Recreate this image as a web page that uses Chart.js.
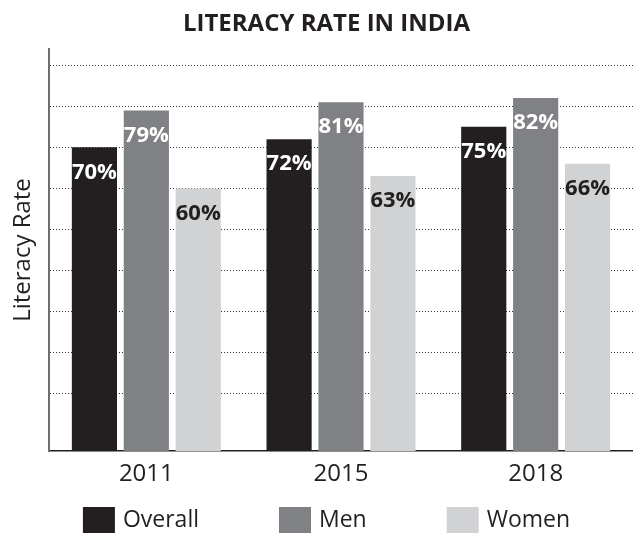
<!DOCTYPE html>
<html>
<head>
<meta charset="utf-8">
<script src="https://cdn.jsdelivr.net/npm/chart.js@4/dist/chart.umd.min.js"></script>
<style>
  html, body { margin: 0; padding: 0; background: #ffffff; }
  #wrap { width: 633px; height: 533px; }
</style>
</head>
<body>
<div id="wrap"><canvas id="c" width="633" height="533"></canvas></div>
<script>
const categories = ['2011', '2015', '2018'];
const overall = [70, 72, 75];
const men = [79, 81, 82];
const women = [60, 63, 66];
const seriesNames = ['Overall', 'Men', 'Women'];
const gridTicks = [10, 20, 30, 40, 50, 60, 70, 80, 90];
const chartTitle = 'LITERACY RATE IN INDIA';
const yTitle = 'Literacy Rate';

const Y_MIN = -4, Y_MAX = 94;
const FONT = "'Open Sans', 'DejaVu Sans', sans-serif";
const DARK = '#231f20';
const colors = ['#231f20', '#808184', '#d1d2d4'];
const labelColors = ['#ffffff', '#ffffff', '#231f20'];

const barLabels = {
  id: 'barLabels',
  afterDatasetsDraw(chart) {
    const ctx = chart.ctx;
    ctx.save();
    ctx.font = "bold 22px " + FONT;
    ctx.textAlign = 'center';
    ctx.textBaseline = 'middle';
    chart.data.datasets.forEach((ds, di) => {
      const meta = chart.getDatasetMeta(di);
      meta.data.forEach((bar, i) => {
        ctx.fillStyle = labelColors[di];
        ctx.fillText(ds.data[i] + '%', bar.x, bar.y + 25);
      });
    });
    ctx.restore();
  }
};

const customLegend = {
  id: 'customLegend',
  afterDraw(chart) {
    const ctx = chart.ctx;
    ctx.save();
    ctx.font = "23px " + FONT;
    const boxW = 32, boxH = 26, gap = 8, spacing = 80;
    const items = chart.data.datasets.map(ds => ({ text: ds.label, color: ds.backgroundColor, w: ctx.measureText(ds.label).width }));
    let total = 0;
    items.forEach((it, i) => { total += boxW + gap + it.w + (i < items.length - 1 ? spacing : 0); });
    const center = (20 + chart.width) / 2;
    let x = center - total / 2;
    const top = chart.height - boxH;
    ctx.textBaseline = 'middle';
    ctx.textAlign = 'left';
    items.forEach(it => {
      ctx.fillStyle = it.color;
      ctx.fillRect(x, top, boxW, boxH);
      ctx.fillStyle = DARK;
      ctx.fillText(it.text, x + boxW + gap, top + boxH / 2);
      x += boxW + gap + it.w + spacing;
    });
    ctx.restore();
  }
};

const seriesData = [overall, men, women];

new Chart(document.getElementById('c'), {
  type: 'bar',
  data: {
    labels: categories,
    datasets: seriesNames.map((name, i) => ({
      label: name,
      data: seriesData[i],
      backgroundColor: colors[i],
      base: Y_MIN,
      categoryPercentage: 0.8,
      barPercentage: 0.87
    }))
  },
  options: {
    responsive: false,
    animation: false,
    devicePixelRatio: 1,
    layout: { padding: { left: 20, right: 0, top: 0, bottom: 35 } },
    plugins: {
      legend: { display: false },
      tooltip: { enabled: false },
      title: {
        display: true,
        text: chartTitle,
        color: DARK,
        font: { family: FONT, size: 24, weight: 'bold', lineHeight: 1.2 },
        padding: { top: 10, bottom: 10 }
      }
    },
    scales: {
      x: {
        grid: { display: false, drawTicks: false },
        border: { display: true, color: DARK, width: 1.5 },
        ticks: { color: DARK, padding: 9, font: { family: FONT, size: 24, lineHeight: 1.2 } }
      },
      y: {
        min: Y_MIN,
        max: Y_MAX,
        afterBuildTicks(scale) { scale.ticks = gridTicks.map(v => ({ value: v })); },
        ticks: { display: false },
        grid: { color: '#333333', lineWidth: 1, drawTicks: false },
        border: { display: true, color: '#6d6e71', width: 2, dash: [1, 2], dashOffset: 0 },
        title: {
          display: true,
          text: yTitle,
          color: DARK,
          font: { family: FONT, size: 24, lineHeight: 1.2 },
          padding: { top: -11.4, bottom: 11.6 }
        }
      }
    }
  },
  plugins: [barLabels, customLegend]
});
</script>
</body>
</html>
